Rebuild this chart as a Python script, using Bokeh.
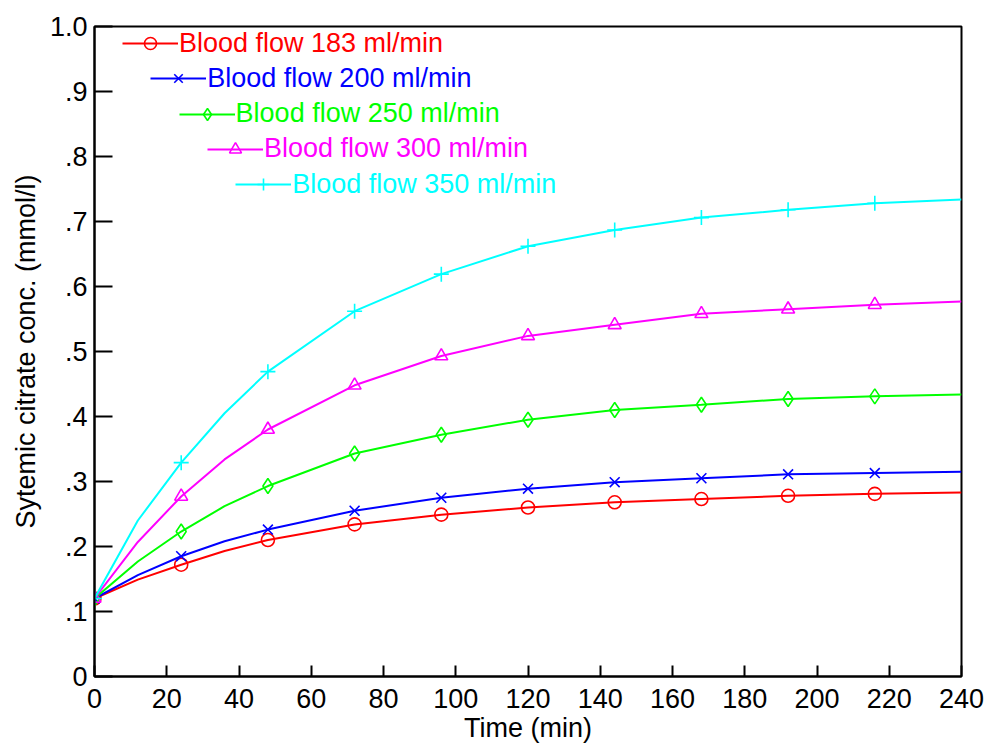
from bokeh.plotting import figure
from bokeh.models import Range1d, FixedTicker, Legend, LegendItem
from bokeh.embed import file_html
from bokeh.resources import INLINE

# ---- data ----
time_min = [0, 12, 24, 36, 48, 72, 96, 120, 144, 168, 192, 216, 240]
flow_183 = [0.120, 0.149, 0.172, 0.193, 0.210, 0.234, 0.249, 0.260, 0.268, 0.273, 0.278, 0.281, 0.283]
flow_200 = [0.120, 0.156, 0.185, 0.208, 0.226, 0.255, 0.275, 0.289, 0.299, 0.305, 0.311, 0.313, 0.315]
flow_250 = [0.120, 0.177, 0.223, 0.262, 0.293, 0.343, 0.372, 0.395, 0.410, 0.418, 0.427, 0.431, 0.434]
flow_300 = [0.120, 0.207, 0.277, 0.334, 0.380, 0.448, 0.493, 0.524, 0.541, 0.558, 0.565, 0.572, 0.577]
flow_350 = [0.120, 0.240, 0.329, 0.405, 0.469, 0.562, 0.619, 0.662, 0.687, 0.706, 0.718, 0.728, 0.734]
marker_times = [0, 24, 48, 72, 96, 120, 144, 168, 192, 216]
series_labels = ["Blood flow 183 ml/min", "Blood flow 200 ml/min", "Blood flow 250 ml/min",
                 "Blood flow 300 ml/min", "Blood flow 350 ml/min"]
x_ticks = [0, 20, 40, 60, 80, 100, 120, 140, 160, 180, 200, 220, 240]
y_ticks = [0, 0.1, 0.2, 0.3, 0.4, 0.5, 0.6, 0.7, 0.8, 0.9, 1.0]
y_tick_labels = ["0", ".1", ".2", ".3", ".4", ".5", ".6", ".7", ".8", ".9", "1.0"]

series = [flow_183, flow_200, flow_250, flow_300, flow_350]
colors = ["#FF0000", "#0000FF", "#00FF00", "#FF00FF", "#00FFFF"]
markers = ["circle", "x", "diamond", "triangle", "cross"]
msizes = [13, 14, 15, 13, 15]

FONT = "Liberation Sans"
marker_idx = [time_min.index(t) for t in marker_times]

p = figure(width=985, height=750, x_range=Range1d(0, 240), y_range=Range1d(0, 1),
           output_backend="svg", toolbar_location=None,
           min_border_left=94, min_border_right=24, min_border_top=26, min_border_bottom=74)
p.grid.visible = False
p.outline_line_color = "black"
p.outline_line_width = 2
p.background_fill_color = "white"
p.border_fill_color = "white"

for ax in (p.xaxis[0], p.yaxis[0]):
    ax.axis_line_width = 2
    ax.axis_line_color = "black"
    ax.major_tick_line_width = 2
    ax.major_tick_line_color = "black"
    ax.major_tick_out = 0
    ax.minor_tick_line_color = None
    ax.major_label_text_font = FONT
    ax.major_label_text_font_size = "27px"
    ax.major_label_text_color = "black"
    ax.axis_label_text_font = FONT
    ax.axis_label_text_font_size = "27px"
    ax.axis_label_text_font_style = "normal"
    ax.axis_label_text_color = "black"

p.xaxis.ticker = FixedTicker(ticks=x_ticks)
p.yaxis.ticker = FixedTicker(ticks=y_ticks)
p.yaxis.major_label_overrides = {t: l for t, l in zip(y_ticks, y_tick_labels)}
p.xaxis.major_label_overrides = {t: str(t) for t in x_ticks}
p.xaxis.major_tick_in = 11
p.yaxis.major_tick_in = 18
p.xaxis.major_label_standoff = 12
p.yaxis.major_label_standoff = 7
p.xaxis.axis_label = "Time (min)"
p.yaxis.axis_label = "Sytemic citrate conc. (mmol/l)"
p.xaxis.axis_label_standoff = 2
p.yaxis.axis_label_standoff = 6

frame_h = 650
row_h = 30
for i, (vals, col, mk, ms, lab) in enumerate(zip(series, colors, markers, msizes, series_labels)):
    lr = p.line(time_min, vals, line_color=col, line_width=2)
    sr = p.scatter([time_min[k] for k in marker_idx], [vals[k] for k in marker_idx],
                   marker=mk, size=ms, line_color=col, fill_color=None, line_width=1.6)
    cx = 28 + 28.3 * i
    cy_top = 17.5 + 35.3 * i
    leg = Legend(items=[LegendItem(label=lab, renderers=[lr, sr])],
                 location=(cx, frame_h - cy_top - row_h / 2),
                 glyph_width=56, glyph_height=row_h, label_height=row_h,
                 label_standoff=1, padding=0, margin=0, spacing=0,
                 border_line_alpha=0, background_fill_alpha=0,
                 label_text_font=FONT, label_text_font_size="27px",
                 label_text_color=col, label_text_baseline="middle")
    p.add_layout(leg)

open("out.html", "w").write(file_html(p, INLINE))
